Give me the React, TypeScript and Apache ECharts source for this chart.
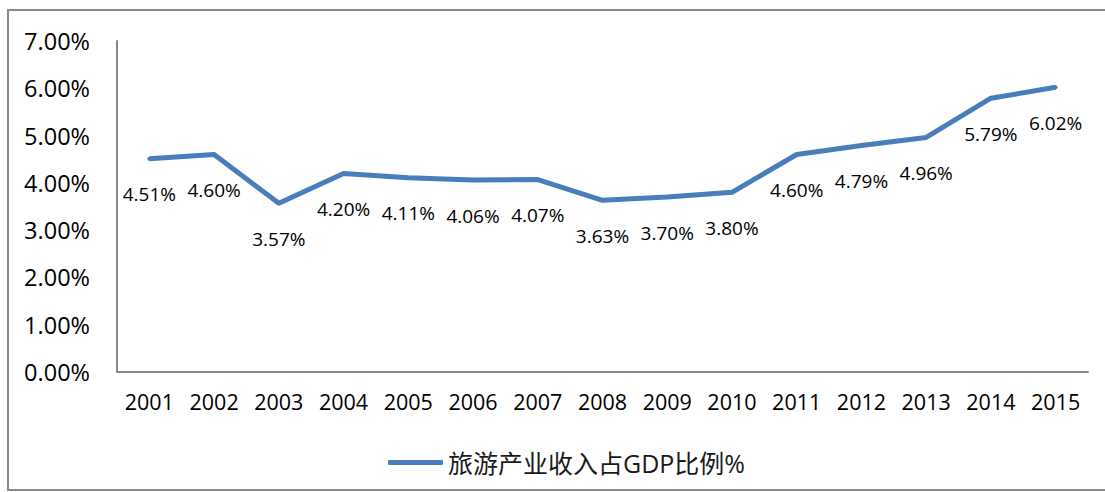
import React, { useEffect, useRef } from "react";
import * as echarts from "echarts";

const years = ["2001","2002","2003","2004","2005","2006","2007","2008","2009","2010","2011","2012","2013","2014","2015"];
const ratio = [4.51, 4.60, 3.57, 4.20, 4.11, 4.06, 4.07, 3.63, 3.70, 3.80, 4.60, 4.79, 4.96, 5.79, 6.02];
const seriesName = "旅游产业收入占GDP比例%";

const FONT = "'Open Sans', 'Noto Sans', 'Noto Sans CJK SC', sans-serif";

export default function App() {
  const ref = useRef<HTMLDivElement>(null);
  useEffect(() => {
    if (!ref.current) return;
    const chart = echarts.init(ref.current, null, { renderer: "svg" });
    chart.setOption({
      animation: false,
      backgroundColor: "#ffffff",
      graphic: [
        {
          type: "rect",
          shape: { x: 8, y: 10, width: 1100, height: 480 },
          style: { fill: "none", stroke: "#898989", lineWidth: 2 },
          silent: true,
        },
      ],
      grid: { left: 117, right: 17, top: 41, bottom: 120, containLabel: false },
      legend: {
        left: 383,
        top: 445,
        icon: "roundRect",
        itemWidth: 55,
        itemHeight: 5,
        itemGap: 4,
        itemStyle: { color: "#4a7ebb", opacity: 1 },
        textStyle: { fontFamily: FONT, fontSize: 25, color: "#1a1a1a" },
        data: [seriesName],
      },
      xAxis: {
        type: "category",
        data: years,
        boundaryGap: true,
        axisLine: { show: true, lineStyle: { color: "#898989", width: 2 } },
        axisTick: { show: false },
        axisLabel: { fontFamily: FONT, fontSize: 21.5, color: "#000000", margin: 19 },
        splitLine: { show: false },
      },
      yAxis: {
        type: "value",
        min: 0,
        max: 7,
        interval: 1,
        axisLine: { show: true, lineStyle: { color: "#898989", width: 2 } },
        axisTick: { show: false },
        splitLine: { show: false },
        axisLabel: {
          fontFamily: FONT,
          fontSize: 23.5,
          color: "#000000",
          margin: 27,
          formatter: (v: number) => v.toFixed(2) + "%",
        },
      },
      series: [
        {
          name: seriesName,
          type: "line",
          data: ratio,
          symbol: "circle",
          symbolSize: 4,
          showSymbol: true,
          itemStyle: { color: "#4a7ebb", borderWidth: 0 },
          color: "#4a7ebb",
          lineStyle: { color: "#4a7ebb", width: 5 },
          labelLayout: { hideOverlap: false },
          label: {
            show: true,
            position: "bottom",
            distance: 24,
            fontFamily: FONT,
            fontSize: 19,
            color: "#000000",
            formatter: (p: any) => Number(p.value).toFixed(2) + "%",
          },
        },
      ],
    });
    return () => chart.dispose();
  }, []);
  return (
    <div
      ref={ref}
      style={{ position: "absolute", left: 0, top: 0, width: 1105, height: 492 }}
    />
  );
}
